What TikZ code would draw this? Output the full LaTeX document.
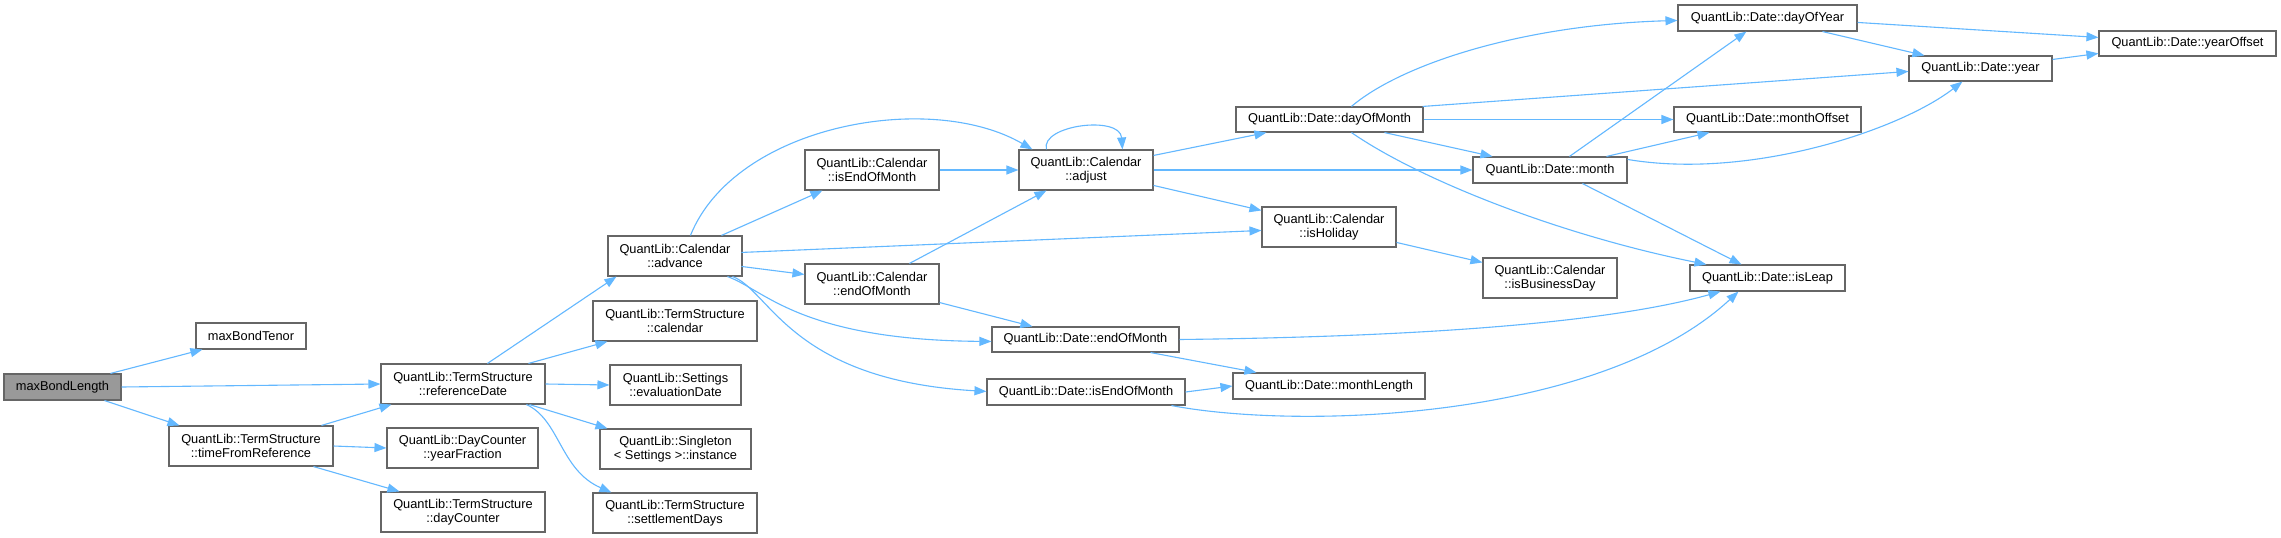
\documentclass[tikz,border=0pt]{standalone}
\usepackage{fontspec}
\setmainfont{Liberation Sans}
\usetikzlibrary{arrows.meta,calc}
\definecolor{edgeblue}{HTML}{63B8FF}
\definecolor{boxgray}{HTML}{666666}
\definecolor{rootfill}{HTML}{999999}
\begin{document}
\begin{tikzpicture}[x=1pt,y=-1pt,
  box/.style={draw=boxgray, fill=white, line width=1.1pt, inner sep=0pt, align=center,
    font=\fontsize{12.8}{14.3}\selectfont},
  sz/.style 2 args={minimum width=#1pt, minimum height=#2pt},
  edge/.style={draw=edgeblue, line width=1.1pt, -{Triangle[length=12pt,width=9pt]}}]
\fill[white] (0,0) rectangle (2281,538);
\useasboundingbox (0,0) rectangle (2281,538);

% nodes
\node[box, sz={117}{26}, fill=rootfill] (root) at (62.5,387) {maxBondLength};
\node[box, sz={110}{26}] (tenor) at (251,336) {maxBondTenor};
\node[box, sz={164}{40}] (refdate) at (463,384) {QuantLib::TermStructure\\::referenceDate};
\node[box, sz={164}{40}] (tfr) at (251,446) {QuantLib::TermStructure\\::timeFromReference};
\node[box, sz={151}{40}] (yf) at (462.5,448) {QuantLib::DayCounter\\::yearFraction};
\node[box, sz={164}{40}] (dc) at (463,512) {QuantLib::TermStructure\\::dayCounter};
\node[box, sz={134}{40}] (adv) at (675,256) {QuantLib::Calendar\\::advance};
\node[box, sz={164}{40}] (cal) at (675,321) {QuantLib::TermStructure\\::calendar};
\node[box, sz={131}{40}] (evd) at (675.5,385) {QuantLib::Settings\\::evaluationDate};
\node[box, sz={151}{40}] (inst) at (675.5,449) {QuantLib::Singleton\\< Settings >::instance};
\node[box, sz={164}{40}] (sd) at (675,513) {QuantLib::TermStructure\\::settlementDays};
\node[box, sz={134}{40}] (ceom) at (872,170) {QuantLib::Calendar\\::isEndOfMonth};
\node[box, sz={134}{40}] (cendm) at (872,284) {QuantLib::Calendar\\::endOfMonth};
\node[box, sz={134}{40}] (adj) at (1086,170) {QuantLib::Calendar\\::adjust};
\node[box, sz={187}{25}] (dendm) at (1085.5,339.5) {QuantLib::Date::endOfMonth};
\node[box, sz={198}{26}] (disendm) at (1086,392) {QuantLib::Date::isEndOfMonth};
\node[box, sz={187}{25}] (dom) at (1329.5,119.5) {QuantLib::Date::dayOfMonth};
\node[box, sz={134}{40}] (hol) at (1329,227) {QuantLib::Calendar\\::isHoliday};
\node[box, sz={192}{26}] (mlen) at (1329,386) {QuantLib::Date::monthLength};
\node[box, sz={154}{26}] (month) at (1550,170) {QuantLib::Date::month};
\node[box, sz={134}{40}] (bday) at (1550,278) {QuantLib::Calendar\\::isBusinessDay};
\node[box, sz={179}{26}] (doy) at (1767.5,18) {QuantLib::Date::dayOfYear};
\node[box, sz={187}{25}] (moff) at (1767.5,119.5) {QuantLib::Date::monthOffset};
\node[box, sz={155}{26}] (leap) at (1767.5,278) {QuantLib::Date::isLeap};
\node[box, sz={143}{25}] (year) at (1980.5,68.5) {QuantLib::Date::year};
\node[box, sz={177}{25}] (yoff) at (2187.5,43.5) {QuantLib::Date::yearOffset};

% edges
\draw[edge] ($(root.north west)+(107,0)$) -- ($(tenor.south west)+(7,0)$);
\draw[edge] (root.east) -- (refdate.west);
\draw[edge] ($(root.south west)+(101,0)$) -- ($(tfr.north west)+(11,0)$);
\draw[edge] ($(tfr.north west)+(153,0)$) -- ($(refdate.south west)+(11,0)$);
\draw[edge] (tfr.east) -- (yf.west);
\draw[edge] ($(tfr.south west)+(145,0)$) -- ($(dc.north west)+(19,0)$);
\draw[edge] ($(refdate.north west)+(107,0)$) -- ($(adv.south west)+(9,0)$);
\draw[edge] ($(refdate.north west)+(148,0)$) -- ($(cal.south west)+(15,0)$);
\draw[edge] (refdate.east) -- (evd.west);
\draw[edge] ($(refdate.south west)+(149,0)$) -- ($(inst.north west)+(8,0)$);
\draw[edge] ($(refdate.south west)+(146,0)$) .. controls (560,420) and (560,470) .. ($(sd.north west)+(19,0)$);

\draw[edge] ($(adv.north west)+(83,0)$) .. controls (735,125) and (930,90) .. ($(adj.north west)+(14,0)$);
\draw[edge] ($(adv.north west)+(114,0)$) -- ($(ceom.south west)+(18,0)$);
\draw[edge] ($(adv.north west)+(134,17)$) -- ($(hol.north west)+(0,24)$);
\draw[edge] ($(adv.north west)+(134,31)$) -- ($(cendm.north west)+(0,11)$);
\draw[edge] ($(adv.south west)+(120,0)$) .. controls (765,290) and (800,340) .. ($(dendm.north west)+(0,15)$);
\draw[edge] ($(adv.south west)+(125,0)$) .. controls (770,290) and (790,380) .. ($(disendm.north west)+(0,13)$);

\draw[edge] (ceom.east) -- (adj.west);
\draw[edge] ($(cendm.north west)+(105,0)$) -- ($(adj.south west)+(28,0)$);
\draw[edge] ($(cendm.south east)+(0,-2)$) -- ($(dendm.north west)+(41,0)$);

\draw[edge] ($(adj.north west)+(28,0)$) .. controls (1040,125) and (1120,115) .. ($(adj.north west)+(104,0)$);
\draw[edge] ($(adj.north east)+(0,6)$) -- ($(dom.south west)+(31,0)$);
\draw[edge] (adj.east) -- (month.west);
\draw[edge] ($(adj.north east)+(0,36)$) -- ($(hol.north west)+(0,4)$);

\draw[edge] ($(hol.north east)+(0,36)$) -- ($(bday.north west)+(0,5)$);

\draw[edge] (dendm.east) .. controls (1400,337) and (1600,325) .. ($(leap.south west)+(31,0)$);
\draw[edge] ($(dendm.south east)+(-29,0)$) -- ($(mlen.north west)+(24,0)$);
\draw[edge] (disendm.east) -- (mlen.west);
\draw[edge] ($(disendm.south west)+(185,0)$) .. controls (1300,430) and (1600,420) .. ($(leap.south west)+(49,0)$);

\draw[edge] ($(dom.north west)+(116,0)$) .. controls (1400,65) and (1520,25) .. ($(doy.north west)+(0,16)$);
\draw[edge] ($(dom.north east)+(-1,0)$) -- ($(year.north west)+(0,16)$);
\draw[edge] (dom.east) -- (moff.west);
\draw[edge] ($(dom.south west)+(149,0)$) -- ($(month.north west)+(20,0)$);
\draw[edge] ($(dom.south west)+(116,0)$) .. controls (1420,180) and (1560,235) .. ($(leap.north west)+(17,0)$);

\draw[edge] ($(month.north west)+(97,0)$) -- ($(doy.south west)+(69,0)$);
\draw[edge] ($(month.north west)+(134,0)$) -- ($(moff.south west)+(36,0)$);
\draw[edge] ($(month.north east)+(0,3)$) .. controls (1750,180) and (1900,130) .. ($(year.south west)+(54,0)$);
\draw[edge] ($(month.south west)+(110,0)$) -- ($(leap.north west)+(52,0)$);

\draw[edge] ($(doy.south west)+(145,0)$) -- ($(year.north west)+(16,0)$);
\draw[edge] ($(doy.north east)+(0,18)$) -- ($(yoff.north west)+(0,7)$);
\draw[edge] ($(year.north east)+(0,4)$) -- ($(yoff.north west)+(0,23)$);
\end{tikzpicture}
\end{document}
